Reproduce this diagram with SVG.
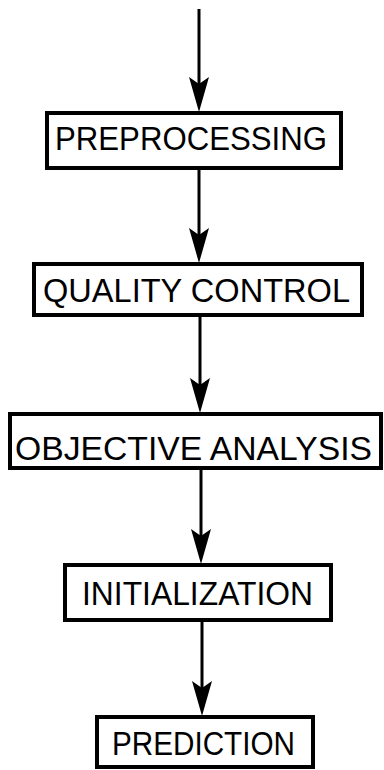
<svg xmlns="http://www.w3.org/2000/svg" width="384" height="770" viewBox="0 0 384 770">
<style>
.box{fill:#fff;stroke:#000;stroke-width:4}
.lbl{font-family:"Liberation Sans",Arial,sans-serif;font-size:33px;fill:#000}
.ln{stroke:#000;stroke-width:3;fill:none}
.hd{fill:#000;stroke:none}
</style>
<defs>
<path id="head" d="M0,0 L-10,-35 L0,-28 L10,-35 Z"/>
</defs>
<rect width="384" height="770" fill="#fff"/>
<g id="connectors">
<line class="ln" x1="199" y1="9" x2="199" y2="100"/>
<use href="#head" class="hd" x="199" y="112"/>
<line class="ln" x1="199" y1="170" x2="199" y2="252"/>
<use href="#head" class="hd" x="199" y="263"/>
<line class="ln" x1="200" y1="317" x2="200" y2="402"/>
<use href="#head" class="hd" x="200" y="413"/>
<line class="ln" x1="201" y1="470" x2="201" y2="553"/>
<use href="#head" class="hd" x="201" y="564"/>
<line class="ln" x1="202" y1="622" x2="202" y2="705"/>
<use href="#head" class="hd" x="202" y="716"/>
</g>
<g id="preprocessing">
<rect class="box" x="47" y="113" width="294" height="55"/>
<text class="lbl" x="55" y="150" textLength="272" lengthAdjust="spacingAndGlyphs">PREPROCESSING</text>
</g>
<g id="quality-control">
<rect class="box" x="34" y="264" width="328" height="51"/>
<text class="lbl" x="43" y="302" textLength="307" lengthAdjust="spacingAndGlyphs">QUALITY CONTROL</text>
</g>
<g id="objective-analysis">
<rect class="box" x="10" y="414" width="371" height="54"/>
<text class="lbl" x="15" y="460" textLength="357" lengthAdjust="spacingAndGlyphs">OBJECTIVE ANALYSIS</text>
</g>
<g id="initialization">
<rect class="box" x="65" y="565" width="266" height="55"/>
<text class="lbl" x="82" y="605" textLength="231" lengthAdjust="spacingAndGlyphs">INITIALIZATION</text>
</g>
<g id="prediction">
<rect class="box" x="97" y="717" width="216" height="50"/>
<text class="lbl" x="112" y="755" textLength="183" lengthAdjust="spacingAndGlyphs">PREDICTION</text>
</g>
</svg>
